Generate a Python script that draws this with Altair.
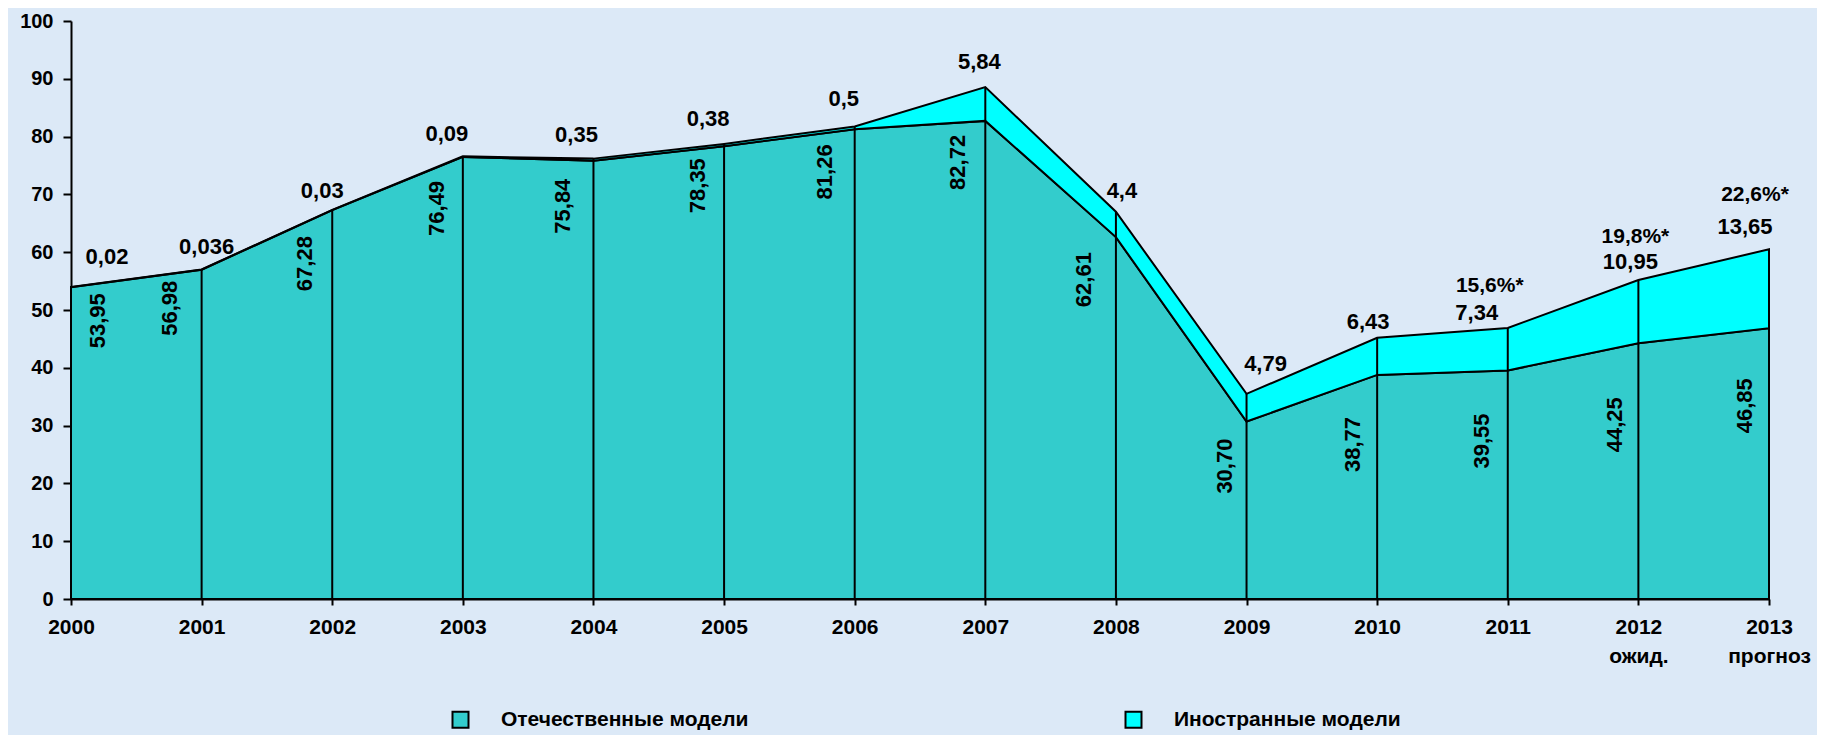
import altair as alt
import pandas as pd

# ---- data ----
years = [2000, 2001, 2002, 2003, 2004, 2005, 2006, 2007, 2008, 2009, 2010, 2011, 2012, 2013]
domestic = [53.95, 56.98, 67.28, 76.49, 75.84, 78.35, 81.26, 82.72, 62.61, 30.70, 38.77, 39.55, 44.25, 46.85]
foreign = [0.02, 0.036, 0.03, 0.09, 0.35, 0.38, 0.5, 5.84, 4.4, 4.79, 6.43, 7.34, 10.95, 13.65]
domestic_text = ["53,95", "56,98", "67,28", "76,49", "75,84", "78,35", "81,26", "82,72",
                 "62,61", "30,70", "38,77", "39,55", "44,25", "46,85"]
foreign_text = ["0,02", "0,036", "0,03", "0,09", "0,35", "0,38", "0,5", "5,84",
                "4,4", "4,79", "6,43", "7,34", "10,95", "13,65"]
share_text = ["", "", "", "", "", "", "", "", "", "", "", "15,6%*", "19,8%*", "22,6%*"]
year_notes = ["", "", "", "", "", "", "", "", "", "", "", "", "ожид.", "прогноз"]
series_names = ["Отечественные модели", "Иностранные модели"]
y_ticks = [0, 10, 20, 30, 40, 50, 60, 70, 80, 90, 100]

# ---- label nudges (pixels), kept apart from the data ----
foreign_dx = [36, 5, -10, -16, -17, -16, -11, -6, 6, 19, -9, -31, -8, -24]
foreign_gap = [30, 22, 19, 22, 24, 25, 27, 25, 21, 30, 16, 15, 18, 22]
share_dx = [0, 0, 0, 0, 0, 0, 0, 0, 0, 0, 0, -18, -3, -14]
share_gap = [0, 0, 0, 0, 0, 0, 0, 0, 0, 0, 0, 42, 43, 54]
domestic_dx = [27, -32, -27, -26, -30, -26, -30, -27, -32, -22, -24, -26, -23, -24]
domestic_drop = [6, 11, 26, 24, 18, 12, 15, 14, 15, 17, 42, 43, 54, 50]

W, H = 1698, 578
PX_YEAR = W / (years[-1] - years[0])
PX_UNIT = H / 100.0

FONT = "Liberation Sans"
C_DOM = "#33CCCC"
C_FOR = "#00FFFF"

df = pd.DataFrame({
    "year": years,
    "dom": domestic,
    "forg": foreign,
    "dom_t": domestic_text,
    "for_t": foreign_text,
    "share_t": share_text,
    "fdx": foreign_dx,
    "fgap": foreign_gap,
    "sdx": share_dx,
    "sgap": share_gap,
    "ddx": domestic_dx,
    "ddrop": domestic_drop,
})

base = alt.Chart(df).transform_calculate(
    total="datum.dom + datum.forg",
    fx=f"datum.year + datum.fdx / {PX_YEAR}",
    fy=f"datum.dom + datum.forg + datum.fgap / {PX_UNIT}",
    sx=f"datum.year + datum.sdx / {PX_YEAR}",
    sy=f"datum.dom + datum.forg + datum.sgap / {PX_UNIT}",
    dx_=f"datum.year + datum.ddx / {PX_YEAR}",
    dy_=f"datum.dom - datum.ddrop / {PX_UNIT}",
)

note_map = ", ".join(
    f"'{y}': ['{y}', '{n}']" for y, n in zip(years, year_notes) if n
)
label_expr = f"({{{note_map}}})[datum.label] || datum.label"

xscale = alt.Scale(domain=[years[0], years[-1]], nice=False, zero=False)
yscale = alt.Scale(domain=[0, 100], nice=False)
cscale = alt.Scale(domain=series_names, range=[C_DOM, C_FOR])

x_axis = alt.Axis(
    values=years, format="d", labelExpr=label_expr, title=None,
    labelFont=FONT, labelFontSize=21, labelFontWeight="bold", labelColor="black",
    labelFlush=False, labelOverlap=False, labelLineHeight=29,
    tickSize=6, tickWidth=2, tickColor="black", labelPadding=11,
    domainColor="black", domainWidth=2, grid=False,
)
y_axis = alt.Axis(
    values=y_ticks, title=None, format="d",
    labelFont=FONT, labelFontSize=20, labelFontWeight="bold", labelColor="black",
    tickSize=8, tickWidth=2, tickColor="black", labelPadding=10,
    domainColor="black", domainWidth=2, grid=False,
)

legend = alt.Legend(
    title=None, orient="none", legendX=379, legendY=688,
    direction="horizontal", columns=2, columnPadding=372,
    symbolType="square", symbolSize=256, symbolStrokeColor="black",
    symbolStrokeWidth=2, symbolOpacity=1,
    labelFont=FONT, labelFontSize=21, labelFontWeight="bold",
    labelColor="black", labelOffset=30, labelLimit=0,
)

dom_area = base.transform_calculate(
    series=f"'{series_names[0]}'"
).mark_area(
    stroke="black", strokeWidth=2, opacity=1, strokeJoin="miter"
).encode(
    x=alt.X("year:Q", scale=xscale, axis=x_axis),
    y=alt.Y("dom:Q", scale=yscale, axis=y_axis),
    color=alt.Color("series:N", scale=cscale, legend=legend),
)

for_area = base.transform_calculate(
    series=f"'{series_names[1]}'"
).mark_area(
    stroke="black", strokeWidth=2, opacity=1, strokeJoin="miter"
).encode(
    x="year:Q",
    y="total:Q",
    y2="dom:Q",
    color=alt.Color("series:N", scale=cscale, legend=legend),
)

rules = base.mark_rule(color="black", strokeWidth=2).encode(
    x="year:Q",
    y="total:Q",
    y2=alt.datum(0),
)

for_labels = base.mark_text(
    font=FONT, fontSize=22, fontWeight="bold", color="black",
    align="center", baseline="middle",
).encode(x="fx:Q", y="fy:Q", text="for_t:N")

share_labels = base.transform_filter("datum.share_t != ''").mark_text(
    font=FONT, fontSize=21, fontWeight="bold", color="black",
    align="center", baseline="middle",
).encode(x="sx:Q", y="sy:Q", text="share_t:N")

dom_labels = base.mark_text(
    font=FONT, fontSize=22, fontWeight="bold", color="black",
    align="right", baseline="middle", angle=270,
).encode(x="dx_:Q", y="dy_:Q", text="dom_t:N")

chart = alt.layer(
    dom_area, for_area, rules, for_labels, share_labels, dom_labels
).properties(
    width=W, height=H,
    autosize=alt.AutoSizeParams(type="none"),
    padding={"left": 63, "top": 13, "right": 48, "bottom": 136},
    background="#DCE9F7",
).configure_view(stroke=None)

chart.save("out.html", embed_options={"renderer": "svg", "actions": False})
